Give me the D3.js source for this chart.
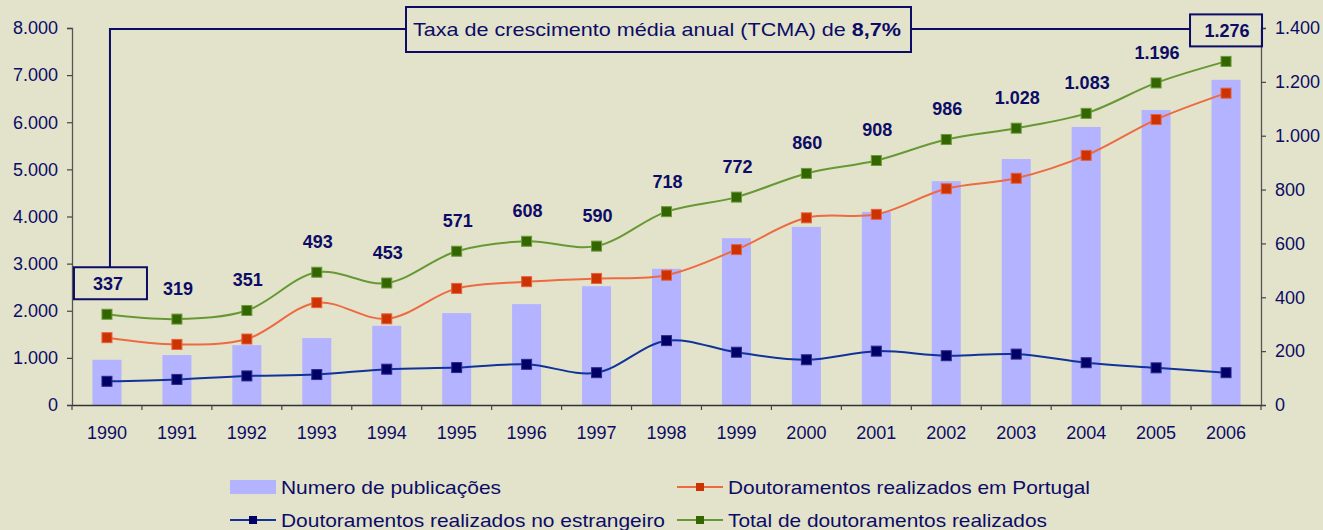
<!DOCTYPE html>
<html lang="pt">
<head>
<meta charset="UTF-8">
<title>Publicações e doutoramentos</title>
<script src="https://cdn.jsdelivr.net/npm/d3@7"></script>
<style>
  body { margin: 0; background: #e3e3cc; }
  svg { display: block; font-family: "Liberation Sans", Arial, sans-serif; }
</style>
</head>
<body>
<svg width="1323" height="530"></svg>
<script>
// dados
const anos = ['1990','1991','1992','1993','1994','1995','1996','1997','1998','1999','2000','2001','2002','2003','2004','2005','2006']
const publicacoes = [960, 1060, 1270, 1420, 1680, 1950, 2140, 2520, 2890, 3540, 3780, 4100, 4750, 5220, 5900, 6260, 6900]
const emPortugal = [250, 225, 245, 380, 320, 433, 458, 470, 482, 577, 695, 708, 803, 842, 927, 1060, 1158]
const noEstrangeiro = [88, 95, 108, 113, 133, 139, 151, 120, 239, 196, 168, 200, 183, 189, 157, 138, 120]
const totalDout = [337, 319, 351, 493, 453, 571, 608, 590, 718, 772, 860, 908, 986, 1028, 1083, 1196, 1276]
const ticksEsq = [0, 1000, 2000, 3000, 4000, 5000, 6000, 7000, 8000]
const ticksDir = [0, 200, 400, 600, 800, 1000, 1200, 1400]
const tituloTxt = 'Taxa de crescimento média anual (TCMA) de '
const tituloVal = '8,7%'

const navy = '#0c0c66'
const svg = d3.select('svg')
const mLeft = 72, mRight = 1261, mTop = 28, mBottom = 405

const x = d3.scaleBand().domain(anos).range([mLeft, mRight]).padding(0)
const yL = d3.scaleLinear().domain([0, 8000]).range([mBottom, mTop])
const yR = d3.scaleLinear().domain([0, 1400]).range([mBottom, mTop])
const fmt = d => d3.format(',')(d).replace(/,/g, '.')
const cx = d => x(d) + x.bandwidth() / 2

// barras
svg.append('g').selectAll('rect')
  .data(publicacoes)
  .enter()
  .append('rect')
  .attr('x', (d, i) => cx(anos[i]) - 14.5)
  .attr('width', 29)
  .attr('y', d => yL(d))
  .attr('height', d => mBottom - yL(d))
  .attr('fill', '#b3b3ff')

// eixos
const gL = svg.append('g').attr('transform', `translate(${mLeft},0)`)
  .call(d3.axisLeft(yL).tickValues(ticksEsq).tickSize(5).tickPadding(9).tickFormat(fmt))
const gR = svg.append('g').attr('transform', `translate(${mRight},0)`)
  .call(d3.axisRight(yR).tickValues(ticksDir).tickSize(5).tickPadding(9).tickFormat(fmt))
const gB = svg.append('g').attr('transform', `translate(0,${mBottom})`)
  .call(d3.axisBottom(x).tickSize(0).tickPadding(21))
svg.append('g').selectAll('line')
  .data(d3.range(anos.length + 1))
  .enter()
  .append('line')
  .attr('x1', i => mLeft + i * x.bandwidth())
  .attr('x2', i => mLeft + i * x.bandwidth())
  .attr('y1', mBottom).attr('y2', mBottom + 5)
  .attr('stroke', '#444').attr('stroke-width', 1.2)

for (const g of [gL, gR, gB]) {
  g.select('.domain').attr('stroke', '#555').attr('stroke-width', 1.3)
  g.selectAll('.tick line').attr('stroke', '#444').attr('stroke-width', 1.2)
  g.selectAll('text').attr('fill', navy).style('font-size', '18px').style('font-family', '"Liberation Sans", Arial, sans-serif')
}
gB.select('.domain').attr('stroke', '#333')

// linhas
const series = [
  { nome: 'estrangeiro', vals: noEstrangeiro, linha: '#113399', fill: '#000066', borda: '#2a2a8a' },
  { nome: 'portugal', vals: emPortugal, linha: '#ee6a40', fill: '#cc3300', borda: '#e86040' },
  { nome: 'total', vals: totalDout, linha: '#669933', fill: '#336600', borda: '#6a9a3a' }
]
const line = d3.line().x((d, i) => cx(anos[i])).y(d => yR(d)).curve(d3.curveCatmullRom.alpha(0.5))

series.forEach(s => {
  svg.append('path')
    .datum(s.vals)
    .attr('d', line)
    .attr('fill', 'none')
    .attr('stroke', s.linha)
    .attr('stroke-width', 2)
  svg.append('g').selectAll('rect')
    .data(s.vals)
    .enter()
    .append('rect')
    .attr('x', (d, i) => cx(anos[i]) - 5)
    .attr('y', d => yR(d) - 5)
    .attr('width', 10).attr('height', 10)
    .attr('fill', s.fill)
    .attr('stroke', s.borda)
    .attr('stroke-width', 1)
})

// rótulos do total
svg.append('g').selectAll('text')
  .data(totalDout)
  .enter()
  .append('text')
  .attr('x', (d, i) => cx(anos[i]) + 1)
  .attr('y', d => yR(d) - 24)
  .attr('text-anchor', 'middle')
  .attr('fill', navy)
  .style('font-size', '18px')
  .style('font-weight', 'bold')
  .text(fmt)

// caixas de anotação
const n = anos.length - 1
const x0 = cx(anos[0]), y0 = yR(totalDout[0]) - 30
const x1 = cx(anos[n]), y1 = yR(totalDout[n]) - 30
svg.append('rect').attr('x', x0 - 33).attr('y', y0 - 17).attr('width', 73).attr('height', 32)
  .attr('fill', 'none').attr('stroke', navy).attr('stroke-width', 2)
svg.append('rect').attr('x', x1 - 36).attr('y', y1 - 17).attr('width', 72).attr('height', 32)
  .attr('fill', 'none').attr('stroke', navy).attr('stroke-width', 2)

const tb = { x: 406, y: 7, w: 505, h: 45 }
const ly = tb.y + 22
svg.append('path')
  .attr('d', `M${tb.x},${ly} H${x0 + 3} V${y0 - 17}`)
  .attr('fill', 'none').attr('stroke', navy).attr('stroke-width', 2)
svg.append('path')
  .attr('d', `M${tb.x + tb.w},${ly} H${x1 - 36}`)
  .attr('fill', 'none').attr('stroke', navy).attr('stroke-width', 2)
svg.append('rect').attr('x', tb.x).attr('y', tb.y).attr('width', tb.w).attr('height', tb.h)
  .attr('fill', '#e3e3cc').attr('stroke', navy).attr('stroke-width', 2)
const t = svg.append('text').attr('x', tb.x + 7).attr('y', tb.y + 29)
  .attr('textLength', 488).attr('lengthAdjust', 'spacingAndGlyphs')
  .attr('fill', navy).style('font-size', '18.5px')
t.append('tspan').text(tituloTxt)
t.append('tspan').style('font-weight', 'bold').text(tituloVal)

// legenda
const legenda = [
  { tipo: 'bar', txt: 'Numero de publicações', x: 230, y: 487, w: 220 },
  { tipo: 'linha', s: series[1], txt: 'Doutoramentos realizados em Portugal', x: 677, y: 487, w: 362 },
  { tipo: 'linha', s: series[0], txt: 'Doutoramentos realizados no estrangeiro', x: 230, y: 520, w: 384 },
  { tipo: 'linha', s: series[2], txt: 'Total de doutoramentos realizados', x: 677, y: 520, w: 319 }
]
const lg = svg.append('g').selectAll('g').data(legenda).enter().append('g')
  .attr('transform', d => `translate(${d.x},${d.y})`)
lg.filter(d => d.tipo === 'bar').append('rect')
  .attr('x', 0).attr('y', -7).attr('width', 46).attr('height', 14).attr('fill', '#b3b3ff')
lg.filter(d => d.tipo === 'linha').append('line')
  .attr('x1', 0).attr('x2', 46).attr('y1', 0).attr('y2', 0)
  .attr('stroke', d => d.s.linha).attr('stroke-width', 2)
lg.filter(d => d.tipo === 'linha').append('rect')
  .attr('x', 19).attr('y', -4).attr('width', 8).attr('height', 8)
  .attr('fill', d => d.s.fill)
lg.append('text')
  .attr('x', 51).attr('y', 7)
  .attr('textLength', d => d.w).attr('lengthAdjust', 'spacingAndGlyphs')
  .attr('fill', navy)
  .style('font-size', '18.5px')
  .text(d => d.txt)
</script>
</body>
</html>
